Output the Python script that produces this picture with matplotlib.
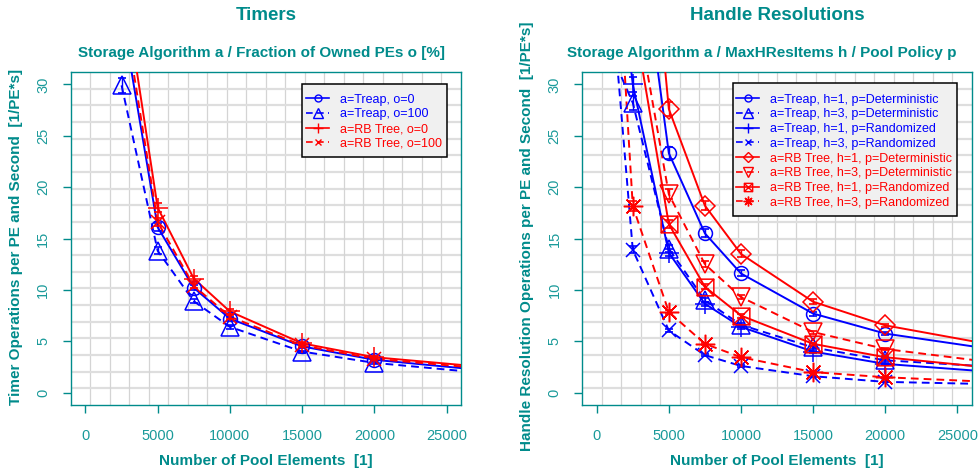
import numpy as np
import matplotlib
matplotlib.use("Agg")
import matplotlib.pyplot as plt
from matplotlib.path import Path
from matplotlib.patches import Rectangle

plt.rcParams['font.family'] = ['Liberation Sans', 'DejaVu Sans']

# ---------------- data ----------------
x_left = [2500, 5000, 7500, 10000, 15000, 20000, 30000]
timer_treap_o0 = [37.0, 16.1, 10.2, 7.2, 4.5, 3.2, 1.85]
timer_treap_o100 = [29.9, 13.8, 8.9, 6.4, 4.0, 2.9, 1.6]
timer_rb_o0 = [41.0, 18.0, 11.1, 7.9, 4.8, 3.45, 2.2]
timer_rb_o100 = [38.5, 16.6, 10.4, 7.4, 4.6, 3.3, 2.05]
left_labels = ["a=Treap, o=0", "a=Treap, o=100", "a=RB Tree, o=0", "a=RB Tree, o=100"]

x_right = [1000, 2500, 5000, 7500, 10000, 15000, 20000, 30000]
hr_treap_h1_det = [90.0, 49.5, 23.3, 15.5, 11.6, 7.7, 5.75, 3.7]
hr_treap_h3_det = [33.0, 28.2, 14.0, 9.0, 6.6, 4.4, 3.15, 2.3]
hr_treap_h1_rand = [48.0, 30.0, 13.6, 8.65, 6.4, 4.0, 2.8, 1.75]
hr_treap_h3_rand = [39.0, 13.9, 6.05, 3.65, 2.6, 1.6, 1.05, 0.75]
hr_rb_h1_det = [110.0, 65.0, 27.6, 18.2, 13.5, 8.85, 6.55, 4.0]
hr_rb_h3_det = [70.0, 39.2, 19.3, 12.5, 9.3, 5.9, 4.25, 2.5]
hr_rb_h1_rand = [65.0, 37.0, 16.4, 10.3, 7.5, 4.75, 3.45, 2.05]
hr_rb_h3_rand = [53.0, 18.15, 7.85, 4.75, 3.45, 2.0, 1.5, 0.88]
right_labels = ["a=Treap, h=1, p=Deterministic", "a=Treap, h=3, p=Deterministic",
                "a=Treap, h=1, p=Randomized", "a=Treap, h=3, p=Randomized",
                "a=RB Tree, h=1, p=Deterministic", "a=RB Tree, h=3, p=Deterministic",
                "a=RB Tree, h=1, p=Randomized", "a=RB Tree, h=3, p=Randomized"]

x_ticks = [0, 5000, 10000, 15000, 20000, 25000]
y_ticks = [0, 5, 10, 15, 20, 25, 30]

# ---------------- style ----------------
TEAL = "#008b8b"
TEAL_L = "#1a9a9a"
BLUE = "#0000ff"
RED = "#ff0000"
DASH = (0, (4, 2.6))

sqx = Path([(-1, -1), (1, -1), (1, 1), (-1, 1), (-1, -1), (-1, -1), (1, 1), (-1, 1), (1, -1)],
           [Path.MOVETO, Path.LINETO, Path.LINETO, Path.LINETO, Path.CLOSEPOLY,
            Path.MOVETO, Path.LINETO, Path.MOVETO, Path.LINETO])

fig = plt.figure(figsize=(9.79, 4.73), dpi=100)
W, H = 979, 473


def mkax(x0, x1, y0=72, y1=405):
    return fig.add_axes([x0 / W, (H - y1) / H, (x1 - x0) / W, (y1 - y0) / H])


def style_axes(ax, title, subtitle, ylabel, tcx, scx, ylab_x):
    ax.set_xlim(-1000, 26000)
    ax.set_ylim(-1.2, 31.2)
    for k in range(1, 20):
        ax.axvline(-1000 + k * 27000 / 20, color="#d4d4d4", lw=0.9, zorder=0)
        ax.axhline(-1.2 + k * 32.4 / 20, color="#dedede", lw=1.6, zorder=0)
    for s in ax.spines.values():
        s.set_color(TEAL)
        s.set_linewidth(1.0)
    ax.set_xticks(x_ticks)
    ax.set_yticks(y_ticks)
    ax.tick_params(axis="both", colors=TEAL, labelcolor=TEAL_L, labelsize=10.5,
                   length=5.5, width=1.0, direction="out")
    ax.tick_params(axis="x", pad=12)
    ax.tick_params(axis="y", pad=9.5)
    for lab in ax.get_yticklabels():
        lab.set_rotation(90)
        lab.set_va("center")
    ax.set_xlabel("Number of Pool Elements  [1]", color=TEAL, fontsize=11,
                  fontweight="bold", labelpad=8)
    ax.set_ylabel(ylabel, color=TEAL, fontsize=11, fontweight="bold")
    ax.yaxis.set_label_coords(ylab_x, 0.5, transform=fig.transFigure)
    ax.yaxis.label.set_va("center")
    fig.text(tcx / W, 1 - 16 / H, title, ha="center", va="center", color=TEAL,
             fontsize=13.5, fontweight="bold")
    fig.text(scx / W, 1 - 53 / H, subtitle, ha="center", va="center", color=TEAL,
             fontsize=11, fontweight="bold")


def series(ax, xs, ys, color, marker, ls, ms, label):
    ys = np.asarray(ys, dtype=float)
    ax.plot(xs, ys, color=color, ls=ls, lw=1.4, zorder=3)
    ax.plot(xs, ys, ls="none", marker=marker, ms=ms, mfc="none", mec=color,
            mew=1.1, zorder=4)
    ax.errorbar(xs, ys, yerr=0.025 * ys, fmt="none", ecolor=color, elinewidth=1.0,
                capsize=3.0, capthick=1.2, zorder=4)
    # legend proxy
    return ax.plot([], [], color=color, ls=ls, lw=1.2, marker=marker, ms=ms * 0.5,
                   mfc="none", mec=color, mew=1.0, label=label)[0]


def add_legend(ax, handles, labels, colors, box, anchor):
    ax.add_patch(Rectangle(box[:2], box[2], box[3], transform=ax.transAxes,
                           facecolor="#f0f0f0", edgecolor="black", lw=1.1,
                           zorder=9, clip_on=False))
    leg = ax.legend(handles, labels, loc="upper left", bbox_to_anchor=anchor,
                    borderaxespad=0, fontsize=9, frameon=False,
                    handlelength=1.85, handletextpad=0.9, labelspacing=0.22,
                    borderpad=0)
    for t, c in zip(leg.get_texts(), colors):
        t.set_color(c)
    leg.set_zorder(10)


# ---------------- left panel ----------------
axL = mkax(71, 461)
style_axes(axL, "Timers", "Storage Algorithm a / Fraction of Owned PEs o [%]",
           "Timer Operations per PE and Second  [1/PE*s]", 266, 261, 16 / W)
hL = [
    series(axL, x_left, timer_treap_o0, BLUE, "o", "-", 10, left_labels[0]),
    series(axL, x_left, timer_treap_o100, BLUE, "^", DASH, 13, left_labels[1]),
    series(axL, x_left, timer_rb_o0, RED, "+", "-", 15, left_labels[2]),
    series(axL, x_left, timer_rb_o100, RED, "x", DASH, 9.5, left_labels[3]),
]
add_legend(axL, hL, left_labels, [BLUE, BLUE, RED, RED],
           (0.5923, 0.7447, 0.3718, 0.2192), (0.6026, 0.9354))

# ---------------- right panel ----------------
axR = mkax(582.3, 971.7)
style_axes(axR, "Handle Resolutions",
           "Storage Algorithm a / MaxHResItems h / Pool Policy p",
           "Handle Resolution Operations per PE and Second  [1/PE*s]", 777, 762, 527 / W)
hR = [
    series(axR, x_right, hr_treap_h1_det, BLUE, "o", "-", 10, right_labels[0]),
    series(axR, x_right, hr_treap_h3_det, BLUE, "^", DASH, 13, right_labels[1]),
    series(axR, x_right, hr_treap_h1_rand, BLUE, "+", "-", 15, right_labels[2]),
    series(axR, x_right, hr_treap_h3_rand, BLUE, "x", DASH, 9.5, right_labels[3]),
    series(axR, x_right, hr_rb_h1_det, RED, "D", "-", 10, right_labels[4]),
    series(axR, x_right, hr_rb_h3_det, RED, "v", DASH, 13, right_labels[5]),
    series(axR, x_right, hr_rb_h1_rand, RED, sqx, "-", 12, right_labels[6]),
    series(axR, x_right, hr_rb_h3_rand, RED, (8, 2, 0), DASH, 14, right_labels[7]),
]
add_legend(axR, hR, right_labels, [BLUE] * 4 + [RED] * 4,
           (0.387, 0.5676, 0.5752, 0.3994), (0.3947, 0.9354))

fig.savefig("out.png", dpi=100)
